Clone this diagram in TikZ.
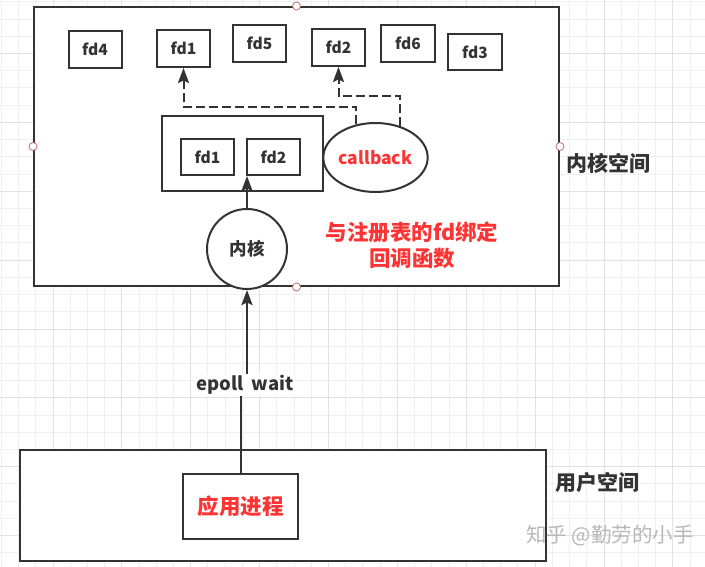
\documentclass[tikz,border=0pt]{standalone}
\usepackage{fontspec}
\setmainfont{Noto Sans CJK SC}
\usetikzlibrary{arrows.meta,shapes.geometric}
\definecolor{ink}{HTML}{333333}
\definecolor{redtxt}{HTML}{FF3333}
\definecolor{gridminor}{HTML}{EFEFEF}
\definecolor{gridmajor}{HTML}{E2E2E2}
\definecolor{marker}{HTML}{C07070}
\definecolor{wmark}{HTML}{B8B8B8}
\tikzset{
  box/.style={draw=ink, line width=2pt, fill=white, inner sep=0pt},
  fdbox/.style={box, minimum width=53pt, minimum height=37pt, text=ink,
    font=\bfseries\fontsize{15.5}{18}\selectfont},
  solidarrow/.style={draw=ink, line width=2pt, -{Stealth[length=15pt,width=11pt,inset=2.5pt]}},
  dasharrow/.style={draw=ink, line width=2pt, dash pattern=on 9pt off 4pt,
    -{Stealth[length=15pt,width=11pt,inset=2.5pt]}},
  sidelabel/.style={text=ink, font=\bfseries\fontsize{21}{24}\selectfont, inner sep=0pt},
  markdot/.style={circle, draw=marker, line width=0.8pt, fill=white, minimum size=8pt, inner sep=0pt},
}
\begin{document}
\begin{tikzpicture}[x=1pt,y=-1pt]
\useasboundingbox (0,0) rectangle (705,567);
\fill[white] (0,0) rectangle (705,567);
% grid
\foreach \i in {-3,...,38} {\draw[gridminor, line width=1pt] ({53+\i*17.22},0) -- ({53+\i*17.22},567);}
\foreach \i in {-19,...,14} {\draw[gridminor, line width=1pt] (0,{329+\i*17.22}) -- (705,{329+\i*17.22});}
\foreach \i in {-1,...,9} {\draw[gridmajor, line width=1pt] ({53+\i*68.88},0) -- ({53+\i*68.88},567);}
\foreach \i in {-4,...,3} {\draw[gridmajor, line width=1pt] (0,{329+\i*68.88}) -- (705,{329+\i*68.88});}

% big boxes
\node[box, minimum width=525pt, minimum height=279pt] (kspace) at (296.5,146.5) {};
\node[box, minimum width=526pt, minimum height=111pt] (uspace) at (283,505.5) {};

% top fd boxes
\node[fdbox] (fd4) at (95,49.5) {fd4};
\node[fdbox] (fd1) at (183.5,48.5) {fd1};
\node[fdbox] (fd5) at (259.5,43.5) {fd5};
\node[fdbox] (fd2) at (338.5,47.5) {fd2};
\node[fdbox, minimum width=54pt] (fd6) at (408,43.5) {fd6};
\node[fdbox, minimum width=54pt, minimum height=36pt] (fd3) at (475,52) {fd3};

% ready list box
\node[box, minimum width=161pt, minimum height=75pt] (rdl) at (242.5,153.5) {};
\node[fdbox, minimum height=36pt] (rfd1) at (207.5,157) {fd1};
\node[fdbox, minimum height=36pt] (rfd2) at (273.5,157) {fd2};

% callback ellipse
\node[ellipse, draw=ink, line width=2pt, fill=white, minimum width=101pt, minimum height=69pt,
  inner sep=0pt, text=redtxt, font=\bfseries\fontsize{17.5}{20}\selectfont] (cb) at (375.5,157.5) {callback};

% kernel circle
\node[circle, draw=ink, line width=2pt, fill=white, minimum size=80pt, inner sep=0pt,
  text=ink, font=\bfseries\fontsize{17.5}{20}\selectfont] (kern) at (247,249) {内核};

% red note
\node[text=redtxt, align=center, inner sep=0pt, font=\bfseries\fontsize{21.5}{26}\selectfont] (note) at (412,245) {与注册表的fd绑定\\回调函数};

% app process
\node[box, minimum width=115pt, minimum height=65pt, text=redtxt,
  font=\bfseries\fontsize{21.5}{24}\selectfont] (app) at (240.5,506.5) {应用进程};

% side labels
\node[sidelabel] (klabel) at (608.5,163) {内核空间};
\node[sidelabel] (ulabel) at (597,482) {用户空间};
\node[text=wmark, inner sep=0pt, font=\fontsize{20.5}{24}\selectfont] (wm) at (610,536) {知乎 @勤劳的小手};

% connectors
\coordinate (j1) at (0,107);
\coordinate (j2) at (0,96);
\draw[dasharrow] (cb.120) -- (cb.120 |- j1) -- (fd1.south |- j1) -- (fd1.south);
\draw[dasharrow] (cb.52) -- (cb.52 |- j2) -- (fd2.south |- j2) -- (fd2.south);
\draw[solidarrow] (kern.north) -- (kern.north |- rfd2.south);

\coordinate (ew) at (245,385);
\draw[solidarrow] (app.north) -- (app.north |- ew) -- (kern.south |- ew) -- (kern.south);
\node[fill=white, text=ink, inner sep=1.5pt, font=\bfseries\fontsize{18.5}{22}\selectfont] (ewl) at (ew) {epoll\hspace{0.45em}wait};

% connection markers
\node[markdot] (m1) at (kspace.north) {};
\node[markdot] (m2) at (kspace.west) {};
\node[markdot] (m3) at (kspace.east) {};
\node[markdot] (m4) at (kspace.south) {};
\end{tikzpicture}
\end{document}
